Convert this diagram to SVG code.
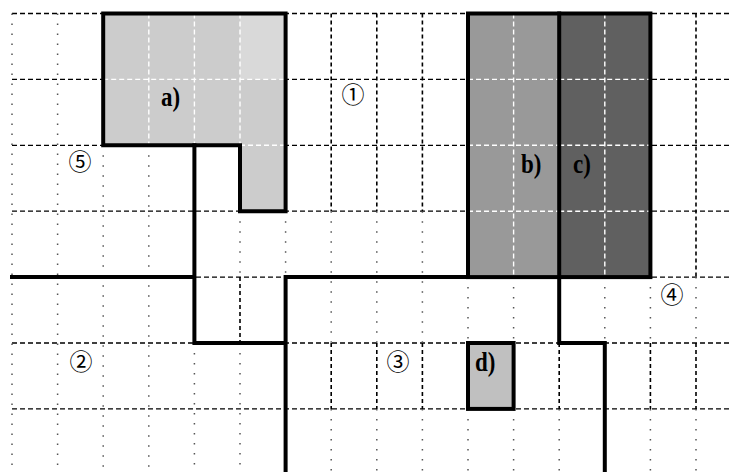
<svg xmlns="http://www.w3.org/2000/svg" width="731" height="472" viewBox="0 0 731 472">
<style>
.h{stroke:#000;stroke-width:1.3;stroke-dasharray:5 3;fill:none}
.vd{stroke:#000;stroke-width:1.6;stroke-dasharray:4 3;fill:none}
.vt{stroke:#555;stroke-width:1.5;stroke-dasharray:1.5 8.5;fill:none}
.w{stroke:#fff;stroke-width:1.4;stroke-dasharray:5 3;fill:none}
.thick{stroke:#000;stroke-width:4;fill:none;stroke-linecap:square}
.lbl{font-family:"Liberation Serif",serif;font-weight:bold;font-size:23px;fill:#000}
.num{font-family:"Noto Sans CJK JP","DejaVu Sans",sans-serif;font-size:23px;fill:#000;text-anchor:middle}
</style>
<rect width="731" height="472" fill="#fff"/>
<g id="grid">
<path class="h" d="M12,13.5H731M12,79.4H731M12,145.3H731M12,211.2H731M12,277.1H731M12,343H731M12,408.9H731"/>
<path class="vt" d="M12,13.5V472M57.6,13.5V472M103.2,145.3V472M148.8,145.3V472M194.4,343V472M240,211.2V277.1M240,343V472M285.6,211.2V277.1M331.2,211.2V343M376.8,211.2V343M422.4,211.2V343M331.2,408.9V472M376.8,408.9V472M422.4,408.9V472M468,277.1V343M468,408.9V472M513.6,277.1V343M513.6,408.9V472M559.2,408.9V472M604.8,277.1V343M650.4,277.1V343M650.4,408.9V472M696,277.1V343M696,408.9V472"/>
<path class="vd" d="M331.2,13.5V211.2M376.8,13.5V211.2M422.4,13.5V211.2M696,13.5V277.1M240,277.1V343M331.2,343V408.9M376.8,343V408.9M422.4,343V408.9M559.2,343V408.9M650.4,343V408.9M696,343V408.9"/>
</g>
<g id="a">
<path d="M103.2,13.5H285.6V211.2H240V145.3H103.2Z" fill="#cccccc"/>
<rect x="240" y="13.5" width="45.6" height="65.9" fill="#d9d9d9"/>
<path class="w" d="M148.8,13.5V145.3M194.4,13.5V145.3M240,13.5V145.3M103.2,79.4H285.6M240,145.3H285.6"/>
<path class="thick" d="M103.2,13.5H285.6V211.2H240V145.3H103.2Z"/>
<text class="lbl" transform="translate(161,106) scale(1,1.15)">a)</text>
</g>
<g id="b">
<rect x="468" y="13.5" width="91.2" height="263.6" fill="#999999"/>
<path class="w" d="M513.6,13.5V277.1M468,79.4H559.2M468,145.3H559.2M468,211.2H559.2"/>
<text class="lbl" transform="translate(521,173) scale(1,1.15)">b)</text>
</g>
<g id="c">
<rect x="559.2" y="13.5" width="91.2" height="263.6" fill="#606060"/>
<path class="w" d="M604.8,13.5V277.1M559.2,79.4H650.4M559.2,145.3H650.4M559.2,211.2H650.4"/>
<text class="lbl" transform="translate(573,173) scale(1,1.15)">c)</text>
</g>
<g id="d">
<rect x="468" y="343" width="45.6" height="65.9" fill="#c0c0c0"/>
<rect class="thick" x="468" y="343" width="45.6" height="65.9"/>
<text class="lbl" transform="translate(475,371) scale(1,1.15)">d)</text>
</g>
<g id="walls">
<rect class="thick" x="468" y="13.5" width="182.4" height="263.6"/>
<path class="thick" d="M559.2,13.5V343H604.8V472"/>
<path class="thick" d="M12,277.1H194.4M194.4,145.3V343H285.6M285.6,277.1V472M285.6,277.1H468"/>
</g>
<g id="labels">
<text class="num" x="353" y="103">①</text>
<text class="num" x="80" y="170">⑤</text>
<text class="num" x="81" y="370">②</text>
<text class="num" x="398" y="370">③</text>
<text class="num" x="672" y="303">④</text>
</g>
</svg>
